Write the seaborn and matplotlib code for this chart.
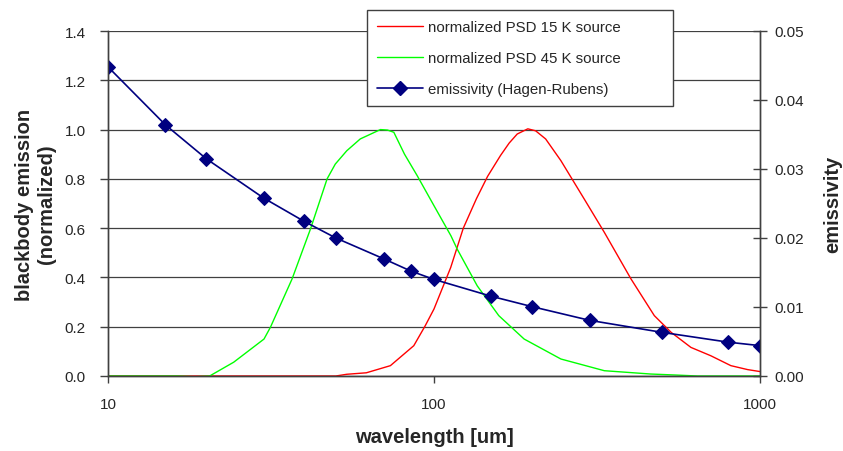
import matplotlib
matplotlib.use('Agg')
import matplotlib.pyplot as plt
from matplotlib.lines import Line2D
from matplotlib.ticker import FixedLocator, NullLocator, FormatStrFormatter
import seaborn as sns

# PSD of 15 K source (normalized)
wl_15k = [10, 20, 40, 50, 54, 62, 73.5, 86.7, 94, 100, 112.5, 123, 135, 146, 160, 170,
          180, 194, 205, 220, 245, 289, 333, 402, 474, 534, 614, 707, 814, 916, 1000]
psd_15k = [0.0, 0.0, 0.0, 0.0, 0.007, 0.013, 0.042, 0.123, 0.204, 0.272, 0.44, 0.60,
           0.72, 0.81, 0.895, 0.945, 0.982, 1.003, 0.995, 0.962, 0.874, 0.718, 0.583,
           0.394, 0.245, 0.177, 0.116, 0.082, 0.042, 0.026, 0.018]

# PSD of 45 K source (normalized)
wl_45k = [10, 16.3, 18.5, 20.5, 24.3, 30.1, 31.5, 36.7, 41.8, 47, 49.8, 54, 59.4,
          68.5, 72, 75.3, 81.2, 88.8, 100, 112.7, 117.8, 135.7, 158, 189, 245, 333,
          462, 550, 643, 1000]
psd_45k = [0.0, 0.0, -0.003, 0.0, 0.056, 0.150, 0.198, 0.394, 0.597, 0.80, 0.86,
           0.914, 0.962, 1.0, 0.998, 0.989, 0.90, 0.813, 0.691, 0.569, 0.515, 0.366,
           0.245, 0.150, 0.069, 0.0215, 0.008, 0.004, 0.0, 0.0]

# emissivity (Hagen-Rubens)
wl_emis = [10, 15, 20, 30, 40, 50, 70, 85, 100, 150, 200, 300, 500, 800, 1000]
emis = [0.0448, 0.0364, 0.0315, 0.0258, 0.0224, 0.0200, 0.0170, 0.0152, 0.0140,
        0.01155, 0.01005, 0.00807, 0.00633, 0.0049, 0.0044]

sns.set_style('white')
plt.rcParams['font.family'] = ['Liberation Sans', 'DejaVu Sans']

fig = plt.figure(figsize=(8.43, 4.52), dpi=100)
ax = fig.add_axes([108 / 843, 1 - 377 / 452, (760 - 108) / 843, (377 - 32) / 452])
ax2 = ax.twinx()

sns.lineplot(x=wl_15k, y=psd_15k, ax=ax, color='#ff0000', lw=1.0,
             estimator=None, sort=False)
sns.lineplot(x=wl_45k, y=psd_45k, ax=ax, color='#00ff00', lw=1.0,
             estimator=None, sort=False)
sns.lineplot(x=wl_emis, y=emis, ax=ax2, color='#000080', lw=1.2, marker='D',
             markersize=7, markeredgecolor='#000080', estimator=None, sort=False)

ax.set_xscale('log')
ax.set_xlim(10, 1000)
ax.set_ylim(0, 1.4)
ax2.set_ylim(0, 0.05)
ax.xaxis.set_major_locator(FixedLocator([10, 100, 1000]))
ax.xaxis.set_minor_locator(NullLocator())
ax.xaxis.set_major_formatter(FormatStrFormatter('%d'))
ax.set_yticks([0, 0.2, 0.4, 0.6, 0.8, 1.0, 1.2, 1.4])
ax.yaxis.set_major_formatter(FormatStrFormatter('%.1f'))
ax2.set_yticks([0, 0.01, 0.02, 0.03, 0.04, 0.05])
ax2.yaxis.set_major_formatter(FormatStrFormatter('%.2f'))

ax.yaxis.grid(True, color='#404040', lw=0.9)
ax.set_axisbelow(True)
for a in (ax, ax2):
    a.spines['top'].set_visible(False)
    for s in ('left', 'right', 'bottom'):
        a.spines[s].set_color('#404040')
        a.spines[s].set_linewidth(1.0)

ax.tick_params(axis='x', direction='out', length=5, width=1, color='#404040',
               labelsize=11, pad=10, bottom=True)
ax.tick_params(axis='y', direction='out', length=6, width=1, color='#404040',
               labelsize=11, pad=10, left=True)
ax2.tick_params(axis='y', direction='inout', length=10, width=1, color='#404040',
                labelsize=11, pad=5, right=True)

ax.set_xlabel('wavelength [um]', fontsize=14.5, fontweight='bold', labelpad=12)
ax.set_ylabel('blackbody emission\n(normalized)', fontsize=14.5, fontweight='bold',
              labelpad=6, linespacing=1.25)
ax2.set_ylabel('emissivity', fontsize=14.5, fontweight='bold', labelpad=14)

handles = [
    Line2D([], [], color='#ff0000', lw=1.0),
    Line2D([], [], color='#00ff00', lw=1.0),
    Line2D([], [], color='#000080', lw=1.2, marker='D', markersize=7),
]
labels = ['normalized PSD 15 K source', 'normalized PSD 45 K source',
          'emissivity (Hagen-Rubens)']
leg = ax2.legend(handles, labels, loc='upper left', mode='expand',
                 bbox_to_anchor=(367 / 843, 1 - 11 / 452, (673 - 367) / 843, 0.0),
                 bbox_transform=fig.transFigure,
                 fontsize=10.8, frameon=True, fancybox=False, framealpha=1,
                 edgecolor='#404040', borderpad=0.65, labelspacing=1.15,
                 handlelength=3.1, handletextpad=0.3, borderaxespad=0)
leg.get_frame().set_linewidth(1.0)
ax2.set_zorder(ax.get_zorder() + 1)
ax.patch.set_visible(True)
ax2.patch.set_visible(False)

fig.savefig('out.png', dpi=100)
